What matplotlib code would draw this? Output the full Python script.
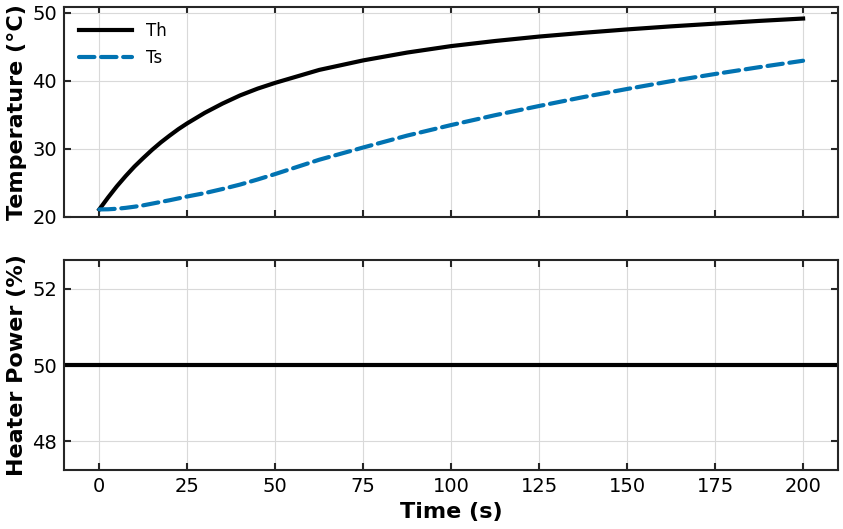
import matplotlib
matplotlib.use("Agg")
import matplotlib.pyplot as plt

# Data
time_s = [0, 2.5, 5, 7.5, 10, 12.5, 15, 17.5, 20, 22.5, 25, 30, 35, 40, 45, 50,
          62.5, 75, 87.5, 100, 112.5, 125, 137.5, 150, 162.5, 175, 187.5, 200]
Th = [21.1, 22.85, 24.5, 26.0, 27.4, 28.65, 29.85, 30.95, 31.95, 32.9, 33.75,
      35.3, 36.65, 37.85, 38.85, 39.7,
      41.6, 43.0, 44.15, 45.1, 45.85, 46.5, 47.05, 47.55, 48.0, 48.4, 48.8, 49.15]
Ts = [21.1, 21.12, 21.2, 21.33, 21.5, 21.7, 21.95, 22.2, 22.45, 22.72, 23.0,
      23.5, 24.1, 24.75, 25.5, 26.3,
      28.4, 30.2, 31.95, 33.5, 34.95, 36.3, 37.6, 38.8, 39.95, 41.0, 42.0, 42.95]
heater_power = 50.0

x_ticks = [0, 25, 50, 75, 100, 125, 150, 175, 200]

plt.rcParams['font.family'] = ['DejaVu Sans']

fig, (ax1, ax2) = plt.subplots(2, 1, sharex=True, figsize=(8.43, 5.29), dpi=100)
fig.subplots_adjust(left=0.076, right=0.9944, top=0.9862, bottom=0.1115, hspace=0.2075)

spine_color = '#262626'

ax1.plot(time_s, Th, color='black', lw=3, label='Th')
ax1.plot(time_s, Ts, color='#0173b2', lw=3, ls='--', dash_capstyle='round', label='Ts')
ax1.set_ylim(20, 50.8)
ax1.set_ylabel('Temperature (°C)', fontsize=16, fontweight='bold')
ax1.legend(loc='upper left', frameon=False, fontsize=12, handlelength=3.2)

ax2.axhline(heater_power, color='black', lw=3)
ax2.set_ylabel('Heater Power (%)', fontsize=16, fontweight='bold')
ax2.set_xlabel('Time (s)', fontsize=16, fontweight='bold')
ax2.set_xticks(x_ticks)

for ax in (ax1, ax2):
    ax.grid(True, color='#d9d9d9', lw=0.8)
    ax.set_axisbelow(True)
    ax.tick_params(direction='in', top=True, right=True, length=5, width=1.5,
                   labelsize=14, pad=5, color=spine_color)
    for s in ax.spines.values():
        s.set_linewidth(1.5)
        s.set_color(spine_color)

fig.align_ylabels([ax1, ax2])
fig.savefig('out.png', dpi=100)
